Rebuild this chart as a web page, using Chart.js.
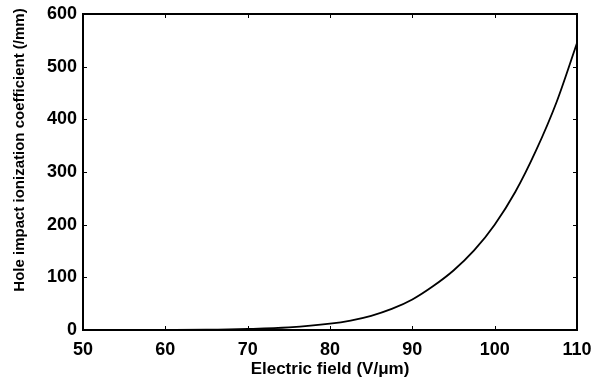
<!DOCTYPE html>
<html>
<head>
<meta charset="utf-8">
<script src="https://cdn.jsdelivr.net/npm/chart.js@4.4.1/dist/chart.umd.min.js"></script>
<style>
  html, body { margin: 0; padding: 0; background: #fff; }
  #wrap { width: 598px; height: 381px; }
</style>
</head>
<body>
<div id="wrap"><canvas id="myChart" width="598" height="381"></canvas></div>
<script>
// valeurs
const fieldValues = [50, 55, 60, 65, 70, 75, 80, 82.5, 85, 87.5, 90, 92.5, 95, 97.5, 100, 102.5, 105, 107.5, 110];
const alphaValues = [0, 0, 0.1, 0.5, 2, 5, 12, 18, 27, 40, 58, 83, 113, 151, 200, 262, 340, 432, 545];
const xTicks = [50, 60, 70, 80, 90, 100, 110];
const yTicks = [0, 100, 200, 300, 400, 500, 600];

const xTitle = 'Electric field (V/\u03bcm)';
const yTitle = 'Hole impact ionization coefficient (/mm)';

const points = fieldValues.map((f, i) => ({ x: f, y: alphaValues[i] }));

// cadre + petites graduations vers l'interieur + titre vertical
const framePlugin = {
  id: 'frame',
  afterDatasetsDraw(chart) {
    const ctx = chart.ctx;
    const a = chart.chartArea;
    const sx = chart.scales.x, sy = chart.scales.y;
    const len = 4;
    ctx.save();
    ctx.strokeStyle = '#000';
    ctx.lineWidth = 1;
    ctx.beginPath();
    xTicks.forEach(v => {
      const px = Math.round(sx.getPixelForValue(v)) + 0.5;
      ctx.moveTo(px, a.bottom); ctx.lineTo(px, a.bottom - len);
      ctx.moveTo(px, a.top); ctx.lineTo(px, a.top + len);
    });
    yTicks.forEach(v => {
      const py = Math.round(sy.getPixelForValue(v)) + 0.5;
      ctx.moveTo(a.left, py); ctx.lineTo(a.left + len, py);
      ctx.moveTo(a.right, py); ctx.lineTo(a.right - len, py);
    });
    ctx.stroke();
    ctx.lineWidth = 2;
    ctx.strokeRect(a.left, a.top, a.right - a.left, a.bottom - a.top);
    // titre de l'axe y (un peu plus haut que le centre, comme sur la figure)
    ctx.translate(20, 150);
    ctx.rotate(-Math.PI / 2);
    ctx.fillStyle = '#000';
    ctx.font = 'bold 15px "Liberation Sans"';
    ctx.textAlign = 'center';
    ctx.textBaseline = 'middle';
    ctx.fillText(yTitle, 0, 0);
    ctx.restore();
  }
};

const ctx = document.getElementById('myChart').getContext('2d');
const config = {
  type: 'line',
  data: {
    datasets: [{
      data: points,
      borderColor: '#000',
      backgroundColor: 'transparent',
      borderWidth: 1.8,
      pointRadius: 0,
      cubicInterpolationMode: 'monotone',
      fill: false
    }]
  },
  options: {
    responsive: false,
    animation: false,
    layout: { padding: { top: 14, right: 21, left: 0, bottom: 0 } },
    plugins: { legend: { display: false }, tooltip: { enabled: false } },
    scales: {
      x: {
        type: 'linear',
        min: 50, max: 110,
        afterFit: s => { s.height = 51; s.paddingLeft = 0; s.paddingRight = 0; },
        afterBuildTicks: s => { s.ticks = xTicks.map(v => ({ value: v })); },
        grid: { display: false, drawTicks: false },
        border: { display: false },
        ticks: { color: '#000', padding: 9, maxRotation: 0, font: { family: 'Liberation Sans', size: 18, weight: 'bold' } },
        title: { display: true, text: xTitle, color: '#000', padding: { top: 0, bottom: 1 }, font: { family: 'Liberation Sans', size: 17, weight: 'bold' } }
      },
      y: {
        type: 'linear',
        min: 0, max: 600,
        afterFit: s => { s.width = 83; s.paddingTop = 0; s.paddingBottom = 0; },
        afterBuildTicks: s => { s.ticks = yTicks.map(v => ({ value: v })); },
        grid: { display: false, drawTicks: false },
        border: { display: false },
        ticks: { color: '#000', padding: 6, font: { family: 'Liberation Sans', size: 18, weight: 'bold' } },
        title: { display: false }
      }
    }
  },
  plugins: [framePlugin]
};
const myChart = new Chart(ctx, config);
</script>
</body>
</html>
